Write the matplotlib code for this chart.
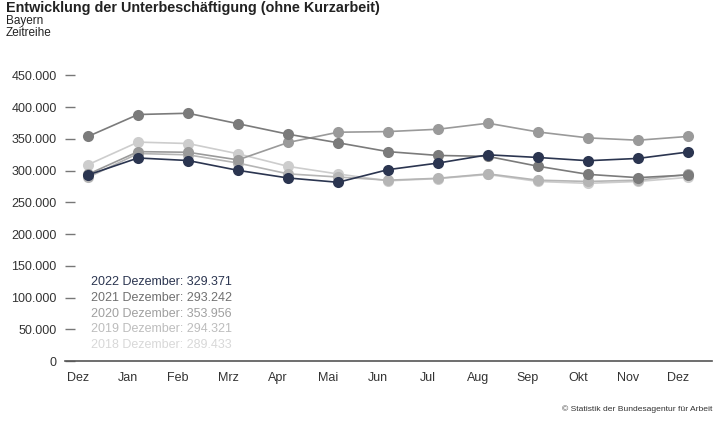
import numpy as np
import matplotlib.pyplot as plt
from matplotlib.transforms import ScaledTranslation
from matplotlib.ticker import FuncFormatter

plt.rcParams['font.family'] = ['Liberation Sans', 'DejaVu Sans']

# Monatsachse (Dezember Vorjahr bis Dezember)
months = ["Dez", "Jan", "Feb", "Mrz", "Apr", "Mai", "Jun", "Jul", "Aug", "Sep", "Okt", "Nov", "Dez"]

# Unterbeschaeftigung in Tausend
y2018 = [309.4, 345.0, 342.8, 326.6, 306.8, 294.8, 284.0, 287.5, 294.0, 283.0, 280.0, 283.0, 289.433]
y2019 = [289.433, 327.0, 325.0, 312.0, 295.0, 290.0, 285.0, 288.0, 295.0, 285.0, 283.0, 285.0, 294.321]
y2020 = [294.321, 330.0, 329.0, 317.0, 344.4, 360.6, 361.6, 365.3, 374.8, 361.0, 351.7, 348.0, 353.956]
y2021 = [353.956, 388.5, 390.5, 374.0, 357.5, 344.0, 330.0, 324.0, 322.5, 307.0, 294.2, 289.0, 293.242]
y2022 = [293.242, 320.0, 316.0, 300.5, 288.5, 281.7, 301.6, 312.0, 325.0, 320.8, 315.7, 319.3, 329.371]

years = ["2018", "2019", "2020", "2021", "2022"]
series = [y2018, y2019, y2020, y2021, y2022]
colors = ["#cdcdcd", "#b5b5b5", "#9a9a9a", "#7b7b7b", "#2b3550"]
text_colors = ["#d8d8d8", "#bdbdbd", "#a0a0a0", "#707070", "#2b3550"]

def de_fmt(v, pos=None):
    return f"{int(round(v)):,}".replace(",", ".")

fig = plt.figure(figsize=(7.25, 4.22), dpi=100)
ax = fig.add_axes([0.0897, 0.1445, 0.8923, 0.6766])

x = np.arange(len(months))
for yr, vals, c in zip(years, series, colors):
    ax.plot(x, np.array(vals) * 1000, color=c, lw=1.2, marker='o', ms=8,
            markeredgewidth=0, zorder=3)

ax.set_xlim(-0.46, 12.48)
ax.set_ylim(0, 450000)
ax.set_yticks(np.arange(0, 450001, 50000))
ax.yaxis.set_major_formatter(FuncFormatter(de_fmt))
ax.set_xticks(x)
ax.set_xticklabels(months)

for s in ['top', 'right', 'left']:
    ax.spines[s].set_visible(False)
ax.spines['bottom'].set_color('#555555')
ax.spines['bottom'].set_linewidth(1.2)

ax.tick_params(axis='y', direction='in', length=7, width=1, color='#777777',
               labelsize=9, labelcolor='#333333', pad=6)
ax.tick_params(axis='x', length=0, labelsize=9, labelcolor='#333333', pad=8)
for lbl in ax.get_xticklabels():
    lbl.set_transform(lbl.get_transform() + ScaledTranslation(-0.10, 0, fig.dpi_scale_trans))

# Legende als Text
for i, (yr, vals, c) in enumerate(zip(years[::-1], series[::-1], text_colors[::-1])):
    ax.text(91 / 725, (422 - 282 - i * 15.8) / 422, f"{yr} Dezember: {de_fmt(vals[-1] * 1000)}",
            transform=fig.transFigure, color=c, fontsize=9, va='center', ha='left')

fig.text(6 / 725, 1 - 8 / 422, "Entwicklung der Unterbeschäftigung (ohne Kurzarbeit)",
         fontsize=10.4, fontweight='bold', color='#222222', va='center', ha='left')
fig.text(6 / 725, 1 - 21 / 422, "Bayern", fontsize=8.5, color='#222222', va='center', ha='left')
fig.text(6 / 725, 1 - 33 / 422, "Zeitreihe", fontsize=8.5, color='#222222', va='center', ha='left')
fig.text(712 / 725, 1 - 409 / 422, "© Statistik der Bundesagentur für Arbeit",
         fontsize=6.1, color='#333333', va='center', ha='right')

fig.savefig("out.png", dpi=100)
